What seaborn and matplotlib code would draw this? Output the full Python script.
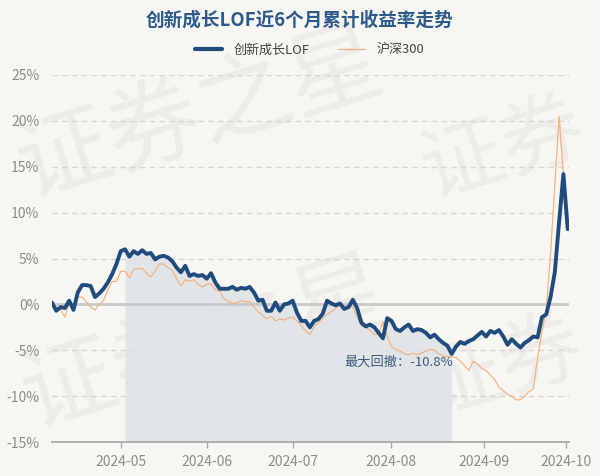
import numpy as np
import pandas as pd
import matplotlib
matplotlib.use("Agg")
import matplotlib.pyplot as plt
import seaborn as sns
from matplotlib.lines import Line2D

title = "创新成长LOF近6个月累计收益率走势"
series_names = ["创新成长LOF", "沪深300"]

fund = [0.2, -0.7, -0.3, -0.4, 0.4, -0.6, 1.3, 2.1, 2.1, 2.0,
        0.8, 1.2, 1.7, 2.4, 3.3, 4.4, 5.8, 6.0, 5.2, 5.8,
        5.5, 5.9, 5.5, 5.6, 4.9, 5.2, 5.3, 5.1, 4.7, 4.0,
        3.5, 4.2, 3.1, 3.3, 3.1, 3.2, 2.8, 3.4, 2.4, 1.7,
        1.7, 1.7, 1.9, 1.6, 1.8, 1.7, 1.9, 1.3, 0.4, 0.5,
        -0.7, -0.7, 0.2, -0.7, 0.0, 0.1, 0.4, -0.9, -1.8, -1.8,
        -2.5, -1.8, -1.6, -1.0, 0.4, 0.1, -0.1, 0.1, -0.5, -0.3,
        0.5, -0.4, -2.0, -2.4, -2.2, -2.5, -3.1, -3.7, -1.5, -1.8,
        -2.7, -2.9, -2.5, -2.2, -2.9, -2.7, -2.8, -3.1, -3.6, -3.3,
        -3.8, -4.2, -4.5, -5.4, -4.6, -4.1, -4.3, -4.0, -3.8, -3.4,
        -3.0, -3.5, -2.9, -3.1, -2.8, -3.5, -4.4, -3.8, -4.3, -4.7,
        -4.2, -3.9, -3.5, -3.6, -1.4, -1.1, 0.8, 3.5, 9.0, 14.2,
        8.2]

hs300 = [0.2, -0.3, -0.6, -1.4, 0.1, -0.2, 0.8, 0.8, 0.3, -0.3,
         -0.6, 0.0, 0.4, 1.6, 2.5, 2.5, 3.6, 3.6, 2.9, 3.8,
         3.9, 3.9, 3.4, 3.0, 3.6, 4.4, 4.4, 4.0, 3.7, 2.8,
         2.0, 2.7, 2.5, 2.7, 2.2, 1.9, 2.2, 2.2, 1.6, 1.4,
         0.6, 0.3, 0.1, 0.2, 0.4, 0.3, 0.3, -0.3, -0.8, -1.2,
         -1.6, -1.3, -1.8, -1.6, -1.7, -1.5, -1.4, -1.8, -2.3, -2.9,
         -3.3, -2.4, -2.0, -1.5, -1.1, -0.8, -0.4, -0.1, -0.4, -0.2,
         -0.3, -1.4, -2.4, -2.5, -2.8, -3.3, -3.2, -1.9, -3.5, -4.6,
         -4.9, -5.1, -5.4, -5.5, -5.3, -5.5, -5.3, -5.1, -4.9, -5.0,
         -5.4, -5.6, -5.7, -5.7, -5.8, -6.2, -6.7, -7.2, -6.2, -6.5,
         -7.0, -7.2, -7.7, -8.2, -9.0, -9.4, -9.8, -10.0, -10.4, -10.4,
         -10.0, -9.5, -9.2, -5.8, -3.0, -0.5, 5.5, 13.0, 20.5, 14.0,
         9.0]

month_labels = ["2024-05", "2024-06", "2024-07", "2024-08", "2024-09", "2024-10"]
month_pos = [16, 36, 56, 78.8, 100.5, 119.5]
y_ticks = [-15, -10, -5, 0, 5, 10, 15, 20, 25]
dd_start, dd_end = 17, 93
dd_text = "最大回撤：-10.8%"
watermark_full = "证券之星"
watermark_part = "证券"

BG = "#f8f6f2"
BLUE = "#1f4c7c"
ORANGE = "#f2b384"

sns.set_theme(style="white")
plt.rcParams['font.family'] = ['Noto Sans CJK SC', 'DejaVu Sans']
plt.rcParams['axes.unicode_minus'] = False

n = len(fund)
idx = np.arange(n)
df = pd.DataFrame({
    "i": np.concatenate([idx, idx]),
    "v": np.concatenate([fund, hs300]),
    "s": [series_names[0]] * n + [series_names[1]] * n,
})

fig = plt.figure(figsize=(6, 4.76), dpi=100, facecolor=BG)

# watermark layer
wax = fig.add_axes([0, 0, 1, 1], facecolor="none")
wax.set_axis_off()
wax.set_xlim(0, 600)
wax.set_ylim(476, 0)
for cx, cy in [(200, 115), (205, 345)]:
    wax.text(cx, cy, watermark_full, ha="center", va="center",
             rotation=17, rotation_mode="anchor", fontsize=68,
             color="#000000", alpha=0.045)
for cx, cy in [(503, 150), (502, 368)]:
    wax.text(cx, cy, watermark_part, ha="center", va="center",
             rotation=17, rotation_mode="anchor", fontsize=60,
             color="#000000", alpha=0.045)

ax = fig.add_axes([52 / 600, 1 - 442 / 476, 517 / 600, 367 / 476])
ax.patch.set_alpha(0.0)

# drawdown shading
seg = np.arange(dd_start, dd_end + 1)
ax.fill_between(seg, np.array(fund)[seg], -15, color="#dfe3e7", alpha=0.85,
                zorder=1, lw=0)

# grid
for y in y_ticks:
    if y == 0:
        ax.axhline(0, color="#c9c9c9", lw=2, zorder=2)
    elif y != -15:
        ax.axhline(y, color="#d6d6d6", lw=1, ls=(0, (4, 3)), zorder=0.5)

sns.lineplot(data=df[df.s == series_names[1]], x="i", y="v", color=ORANGE,
             lw=0.9, ax=ax, zorder=3, legend=False)
sns.lineplot(data=df[df.s == series_names[0]], x="i", y="v", color=BLUE,
             lw=2.8, ax=ax, zorder=4, legend=False)

ax.set_xlim(0, 120.3)
ax.set_ylim(-15, 25)
ax.set_yticks(y_ticks)
ax.set_yticklabels([f"{v}%" for v in y_ticks])
ax.set_xticks(month_pos)
ax.set_xticklabels(month_labels)
ax.set_xlabel("")
ax.set_ylabel("")
for s in ["top", "right", "left"]:
    ax.spines[s].set_visible(False)
ax.spines["bottom"].set_color("#aaaaaa")
ax.spines["bottom"].set_linewidth(1.3)
ax.tick_params(axis="y", length=0, pad=9, labelsize=10, labelcolor="#8c8c8c")
ax.tick_params(axis="x", length=4, width=1, color="#aaaaaa", pad=5,
               labelsize=10, labelcolor="#8c8c8c", bottom=True)

ax.text(dd_end + 0.3, -6.3, dd_text, ha="right", va="center", fontsize=9.5,
        color="#3d5a7e", zorder=5)

# legend
handles = [Line2D([], [], color=BLUE, lw=3), Line2D([], [], color=ORANGE, lw=1)]
fig.legend(handles, series_names, loc="center", bbox_to_anchor=(309.5 / 600, 1 - 50 / 476),
           ncol=2, frameon=False, fontsize=9.4, handlelength=2.07,
           handletextpad=0.9, columnspacing=2.15, labelcolor="#444444")

fig.text(0.5, 1 - 20 / 476, title, ha="center", va="center", fontsize=13.4,
         fontweight="bold", color="#2c5a8c")

fig.savefig("out.png", dpi=100, facecolor=BG)
